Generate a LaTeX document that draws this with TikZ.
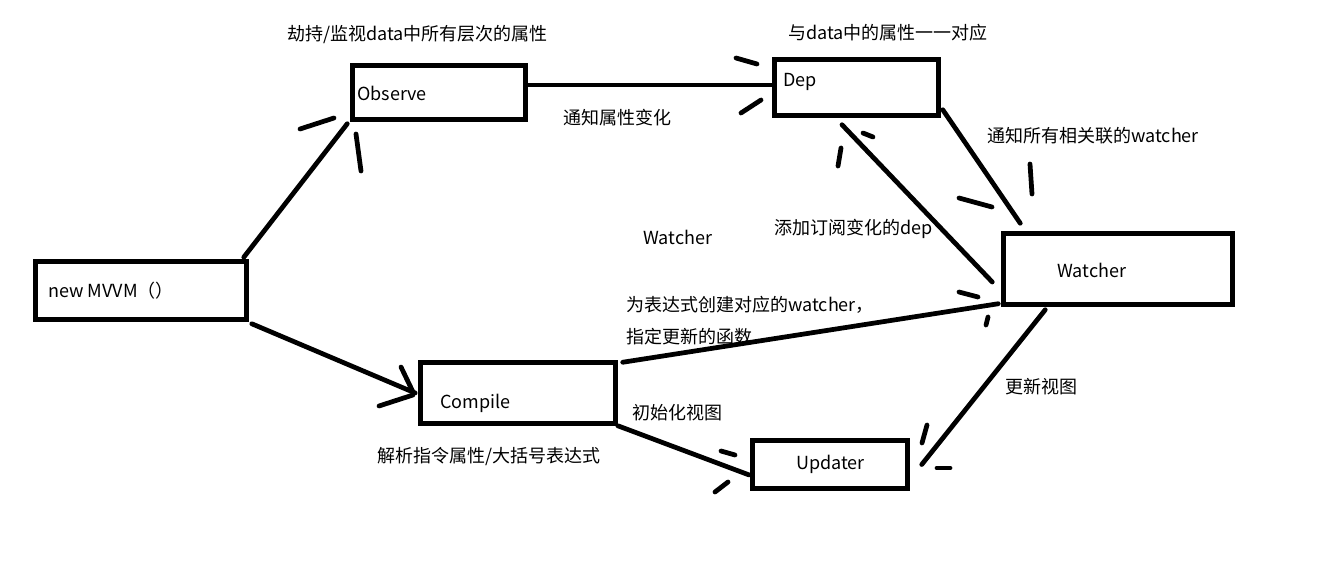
\documentclass[tikz,border=0pt]{standalone}
\usepackage{fontspec}
\setmainfont{Noto Sans CJK SC}
\usepackage{tikz}
\usetikzlibrary{calc}
\tikzstyle{blackbox}=[rectangle,draw=black,fill=white,line width=4.75pt,
                      inner sep=0pt,outer sep=0pt]
\tikzstyle{boxtext}=[anchor=west,inner sep=0pt,font=\fontsize{18}{21}\selectfont]
\tikzstyle{link}=[draw=black,line width=4.75pt,line cap=round]
\tikzstyle{barbline}=[draw=black,line width=4.75pt,line cap=round]
\newcommand\barb[2]{\draw [barbline] (#1) -- (#2);}

\begin{document}
\begin{tikzpicture}[x=1pt,y=-1pt]
    \fill [white] (0,0) rectangle (1336,588);
    % boxes
    \node [blackbox,minimum width=211.5pt,minimum height=58.5pt] (mvvm) at (141,290.5) {};
    \node [blackbox,minimum width=173.5pt,minimum height=54.5pt] (observe) at (439,92.5) {};
    \node [blackbox,minimum width=164.5pt,minimum height=56.5pt] (dep) at (856.5,87.5) {};
    \node [blackbox,minimum width=229.5pt,minimum height=71.5pt] (watcher) at (1118,269) {};
    \node [blackbox,minimum width=195.5pt,minimum height=61.5pt] (compile) at (518,393) {};
    \node [blackbox,minimum width=155.5pt,minimum height=48.5pt] (updater) at (830,464.5) {};

    % texts in the boxes
    \node [boxtext] (mvvmtext) at (48,291) {new MVVM（）};
    \node [boxtext] (observetext) at (357,93) {Observe};
    \node [boxtext] (deptext) at (783,82) {Dep};
    \node [boxtext] (watchertext) at (1057,270) {Watcher};
    \node [boxtext] (compiletext) at (440,403) {Compile};
    \node [boxtext] (updatertext) at (796,464) {Updater};

    % notes
    \node [boxtext] (hijack) at (287,35) {劫持/监视data中所有层次的属性};
    \node [boxtext] (onetoone) at (788,33) {与data中的属性一一对应};
    \node [boxtext] (notifyprop) at (563,118) {通知属性变化};
    \node [boxtext] (notifyall) at (987,136) {通知所有相关联的watcher};
    \node [boxtext] (watcherword) at (643,237) {Watcher};
    \node [boxtext] (subscribe) at (774,229) {添加订阅变化的dep};
    \node [boxtext] (create) at (626,305) {为表达式创建对应的watcher，};
    \node [boxtext] (assign) at (626,337) {指定更新的函数};
    \node [boxtext] (initview) at (632,413) {初始化视图};
    \node [boxtext] (parse) at (377,457) {解析指令属性/大括号表达式};
    \node [boxtext] (updateview) at (1005,387) {更新视图};

    % links
    \draw [link] ($(mvvm.north east)+(-3,-4)$) -- ($(observe.south west)+(-5,4)$);
    \draw [link] ($(observe.east)+(0,-7.5)$) -- ($(dep.west)+(0,-2.5)$);
    \draw [link] ($(dep.south east)+(4,-6)$) -- ($(watcher.north west)+(17,-10)$);
    \draw [link] ($(watcher.west)+(-11,13)$) -- ($(dep.south)+(-14.5,9)$);
    \draw [link] ($(compile.north east)+(7,0)$) -- ($(watcher.south west)+(-5,-1)$);
    \draw [link] ($(compile.south east)+(2,2)$) -- ($(updater.west)+(-3,10.5)$);
    \draw [link] ($(watcher.south west)+(42,5)$) -- ($(updater.east)+(14,0)$);
    \draw [link] ($(mvvm.south east)+(5,4)$) -- ($(compile.west)+(-5,0)$);

    % hand drawn heads
    \barb{300,129}{334,118} \barb{356,134}{361,171}
    \barb{736,58}{757,64} \barb{741,113}{761,100}
    \barb{863,133}{873,137} \barb{841,148}{838,166}
    \barb{959,198}{992,207} \barb{1030,164}{1032,194}
    \barb{959,292}{978,297} \barb{988,317}{986,325}
    \barb{721,451}{735,455} \barb{715,492}{728,482}
    \barb{927,425}{922,443} \barb{937,468}{950,468}
    \barb{401,367}{413,392} \barb{379,406}{413,395}
\end{tikzpicture}
\end{document}
